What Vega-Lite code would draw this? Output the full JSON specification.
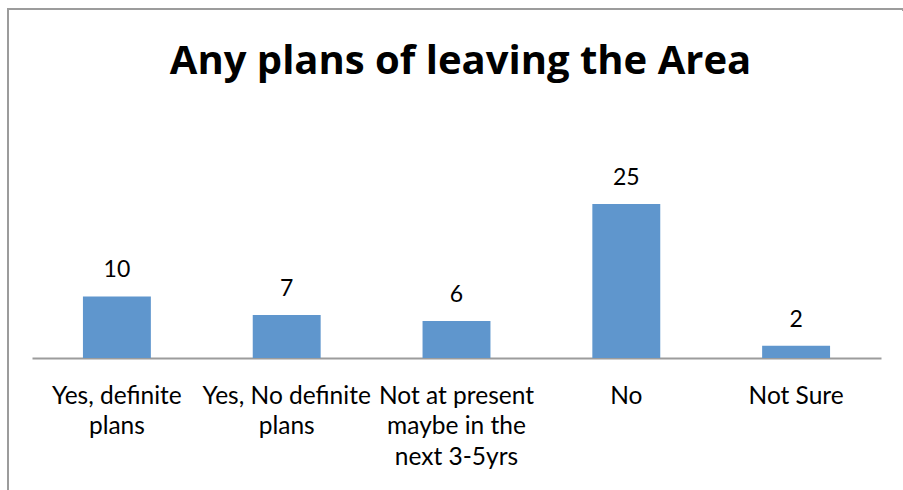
{
  "$schema": "https://vega.github.io/schema/vega-lite/v6.json",
  "autosize": {"type": "none"},
  "padding": {"left": 8, "top": 9, "right": 0, "bottom": 0},
  "width": 895,
  "height": 481,
  "background": "white",
  "title": {
    "text": "Any plans of leaving the Area",
    "font": "Open Sans",
    "fontSize": 40,
    "fontWeight": "bold",
    "color": "#000000",
    "anchor": "middle",
    "frame": "group",
    "baseline": "alphabetic",
    "offset": -68,
    "dy": 37,
    "dx": 5
  },
  "config": {
    "view": {"stroke": "#9C9C9C", "strokeWidth": 2, "strokeDash": [897, 1374, 483, 0]},
    "font": "Lato"
  },
  "data": {
    "values": [
      {"category": "Yes, definite plans", "count": 10},
      {"category": "Yes, No definite plans", "count": 7},
      {"category": "Not at present maybe in the next 3-5yrs", "count": 6},
      {"category": "No", "count": 25},
      {"category": "Not Sure", "count": 2}
    ]
  },
  "encoding": {
    "x": {
      "field": "category",
      "type": "nominal",
      "sort": null,
      "scale": {"range": [24, 873], "paddingInner": 0.6, "paddingOuter": 0.3},
      "axis": {
        "title": null,
        "orient": "bottom",
        "offset": -132,
        "labelAngle": 0,
        "labelFont": "Lato",
        "labelFontSize": 24.5,
        "labelColor": "#000000",
        "labelLineHeight": 30.5,
        "labelPadding": 26,
        "labelLimit": 0,
        "ticks": false,
        "domainColor": "#9C9C9C",
        "domainWidth": 2,
        "labelExpr": "datum.value == 'Yes, definite plans' ? ['Yes, definite', 'plans'] : datum.value == 'Yes, No definite plans' ? ['Yes, No definite', 'plans'] : datum.value == 'Not at present maybe in the next 3-5yrs' ? ['Not at present', 'maybe in the', 'next 3-5yrs'] : datum.value"
      }
    },
    "y": {
      "field": "count",
      "type": "quantitative",
      "scale": {"domain": [0, 25], "range": [349, 195], "nice": false, "zero": true},
      "axis": null
    }
  },
  "layer": [
    {"mark": {"type": "bar", "color": "#5F96CD"}},
    {
      "mark": {"type": "text", "baseline": "alphabetic", "dy": -19, "fontSize": 23, "font": "Lato", "color": "#000000"},
      "encoding": {"text": {"field": "count", "type": "quantitative"}}
    }
  ]
}
